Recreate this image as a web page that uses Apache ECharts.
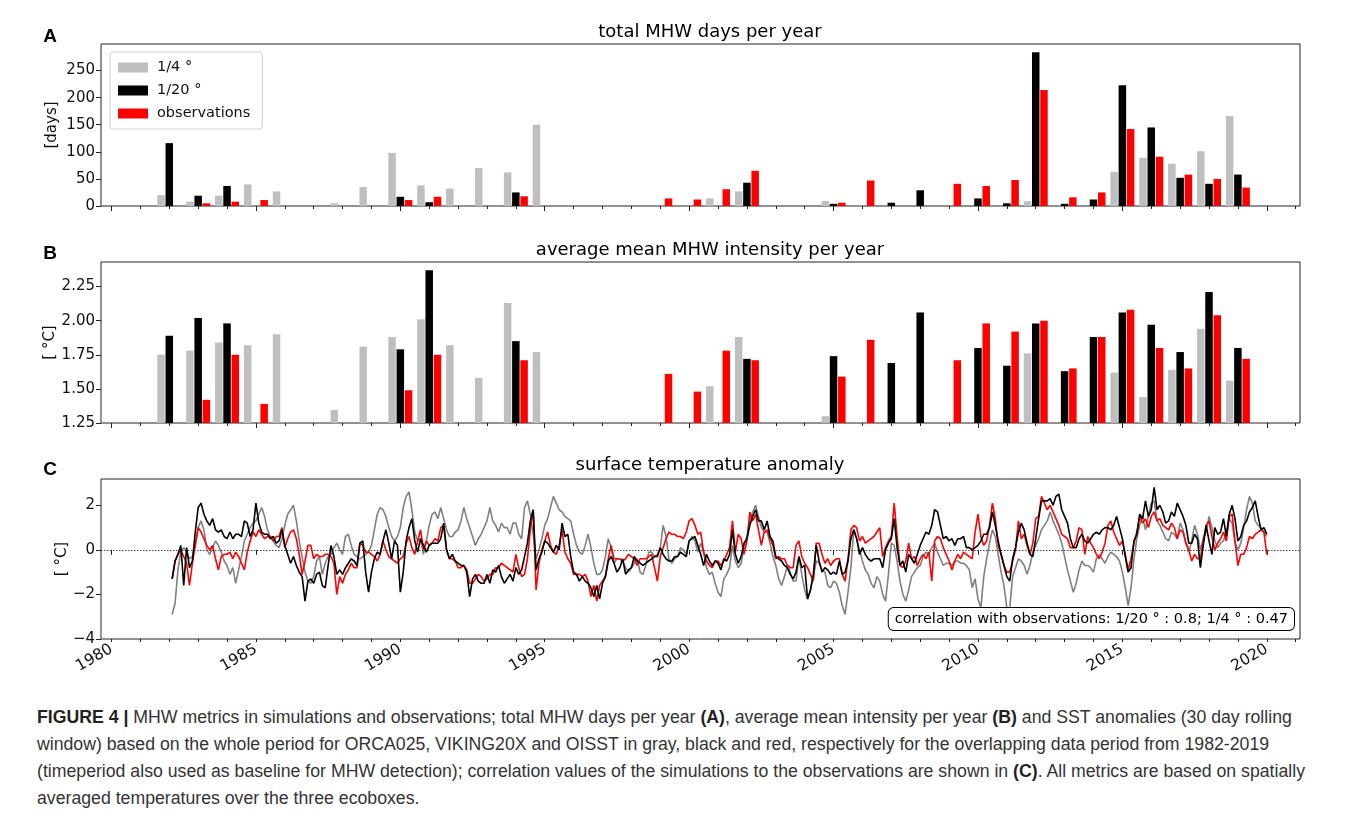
<!DOCTYPE html>
<html>
<head>
<meta charset="utf-8">
<script src="https://cdn.jsdelivr.net/npm/echarts@6/dist/echarts.min.js"></script>
<style>
  html, body { margin: 0; padding: 0; background: #fff; }
  #chart { position: absolute; left: 0; top: 0; width: 1358px; height: 690px; }
  #caption { position: absolute; left: 37px; top: 704px; font-family: 'Liberation Sans Narrow', 'Liberation Sans', 'DejaVu Sans', sans-serif; font-size: 17.5px; line-height: 27px; color: #333; white-space: nowrap; transform-origin: 0 0; }
  #caption b { color: #222; }
</style>
</head>
<body>
<div id="chart"></div>
<div id="caption">
  <div id="capLine1"><b>FIGURE 4 |</b> MHW metrics in simulations and observations; total MHW days per year <b>(A)</b>, average mean intensity per year <b>(B)</b> and SST anomalies (30 day rolling</div>
  <div>window) based on the whole period for ORCA025, VIKING20X and OISST in gray, black and red, respectively for the overlapping data period from 1982-2019</div>
  <div>(timeperiod also used as baseline for MHW detection); correlation values of the simulations to the observations are shown in <b>(C)</b>. All metrics are based on spatially</div>
  <div>averaged temperatures over the three ecoboxes.</div>
</div>
<script>
// ---------------- DATA ----------------
const barYears = [1982,1983,1984,1985,1986,1987,1988,1989,1990,1991,1992,1993,1994,1995,1996,1997,1998,1999,2000,
                  2001,2002,2003,2004,2005,2006,2007,2008,2009,2010,2011,2012,2013,2014,2015,2016,2017,2018,2019];

// (A) total MHW days per year
const daysQuarter   = [20,8,19,40,27,null,5,35,98,38,32,70,62,150,null,null,null,null,null,
                       14,27,null,null,9,null,null,null,null,null,null,9,null,null,63,89,78,101,166];
const daysTwentieth = [116,19,37,null,null,null,null,null,17,7,null,null,25,null,null,null,null,null,null,
                       null,43,null,null,4,null,6,29,null,14,5,284,4,12,223,145,52,41,58];
const daysObs       = [null,5,8,11,null,null,null,null,11,17,null,null,18,null,null,null,null,14,12,
                       31,65,null,null,6,47,null,null,41,37,48,214,16,25,142,91,58,50,34];

// (B) average mean MHW intensity per year
const intQuarter   = [1.75,1.78,1.84,1.82,1.90,null,1.345,1.81,1.88,2.01,1.82,1.58,2.13,1.77,null,null,null,null,null,
                      1.52,1.88,null,null,1.30,null,null,null,null,null,null,1.76,null,null,1.62,1.44,1.64,1.94,1.56];
const intTwentieth = [1.89,2.02,1.98,null,null,null,null,null,1.79,2.37,null,null,1.85,null,null,null,null,null,null,
                      null,1.72,null,null,1.74,null,1.69,2.06,null,1.80,1.67,1.98,1.63,1.88,2.06,1.97,1.77,2.21,1.80];
const intObs       = [null,1.42,1.75,1.39,null,null,null,null,1.49,1.75,null,null,1.71,null,null,null,null,1.61,1.48,
                      1.78,1.71,null,null,1.59,1.86,null,null,1.71,1.98,1.92,2.00,1.65,1.88,2.08,1.80,1.65,2.04,1.72];

// (C) SST anomaly, one row per year (values at year + 0.0, 0.1, ... 0.9)
const sstFirstYear = 1982;
const sstSamplesPerYear = 10;
const sstQuarter = [
  [null,-2.9,-2.4,-0.9,-0.1,0.1,-0.1,-0.4,-0.3,0.2],
  [1.0,1.3,0.9,0.0,-0.2,0.1,0.4,0.2,-0.1,-0.5],
  [-0.7,-1.1,-0.8,-1.5,-0.9,-0.3,0.4,0.7,1.0,1.2],
  [1.3,1.6,1.9,1.5,0.9,0.6,0.4,0.2,0.1,0.5],
  [1.1,1.6,1.8,2.0,1.3,0.4,-0.3,-1.0,-1.4,-1.5],
  [-1.2,-0.5,-0.3,-1.1,-0.6,-0.3,-0.2,0.1,0.3,0.0],
  [-0.2,0.6,0.7,0.2,-0.2,-0.3,-0.4,-0.3,-0.2,-0.1],
  [0.2,0.9,1.6,1.9,1.8,1.5,1.0,0.6,0.4,0.6],
  [1.0,1.9,2.4,2.6,1.8,0.8,0.4,0.5,-0.2,0.4],
  [1.1,1.6,1.7,1.4,1.9,1.4,0.9,0.6,0.6,0.8],
  [0.9,1.3,1.9,1.4,1.0,0.6,0.2,0.5,0.7,1.0],
  [1.3,1.9,1.3,1.1,0.8,1.2,1.0,1.0,0.7,1.2],
  [1.2,0.7,0.5,1.9,2.2,1.6,0.7,-0.4,0.0,0.5],
  [1.1,1.4,1.9,2.4,2.1,1.8,1.7,1.5,1.4,1.3],
  [0.7,0.2,-0.1,-0.2,0.2,0.7,0.1,-0.6,-1.1,-1.1],
  [-0.9,-0.3,0.5,0.1,-0.6,-0.4,-0.4,-0.5,-0.8,-1.0],
  [-0.8,-0.6,-0.4,-1.0,-1.1,-0.7,-0.1,-0.1,-0.3,-0.2],
  [0.1,1.1,0.6,-0.4,-0.6,-0.4,-0.3,0.1,0.0,-0.2],
  [0.4,0.6,0.4,-0.1,0.3,-0.1,-0.8,-1.1,-1.0,-1.5],
  [-1.9,-2.1,-1.3,-1.1,-0.8,0.2,-0.5,-0.8,-0.6,0.1],
  [0.6,1.3,1.7,2.0,1.5,1.0,0.8,0.8,0.3,-0.3],
  [-0.7,-1.3,-1.6,-1.2,-0.7,-1.0,-1.4,-1.4,-0.3,-1.1],
  [-1.8,-2.2,-1.8,-1.2,-0.5,-0.6,-0.9,-1.0,-1.6,-1.7],
  [-1.4,-1.5,-1.9,-2.5,-2.9,-1.9,-0.8,0.9,0.5,0.0],
  [-0.5,-0.9,-1.1,-1.5,-1.7,-1.2,-1.4,-2.0,-2.3,-1.1],
  [0.3,0.2,-0.5,-1.4,-2.0,-2.3,-1.8,-1.2,-1.0,-0.8],
  [-0.7,-0.3,-0.1,-0.2,0.1,0.3,-0.1,-0.4,-0.7,-0.6],
  [-0.6,-0.7,-0.5,-0.5,-0.6,-0.6,-0.7,-0.9,-1.7,-1.3],
  [-2.2,-2.6,-1.2,-0.4,0.3,0.9,0.6,-0.2,-1.0,-1.6],
  [-2.6,-2.6,-1.2,-0.8,-0.4,-0.5,-0.7,-1.1,-0.7,-0.1],
  [0.2,0.5,0.9,1.1,1.3,1.7,1.3,1.0,0.7,0.3],
  [-0.3,-0.9,-1.4,-1.9,-1.5,-0.9,-0.5,-0.7,-0.7,-0.8],
  [-1.0,-0.4,-0.2,-0.4,-0.6,-0.3,-0.1,-0.2,-0.3,-0.5],
  [-1.0,-1.7,-2.5,-1.7,-0.4,0.5,1.1,1.5,0.9,1.5],
  [2.1,2.2,1.3,1.1,0.8,0.5,0.4,0.8,0.7,0.5],
  [1.2,0.9,0.3,-0.1,0.4,1.1,0.7,0.0,0.5,0.8],
  [1.5,1.0,0.4,0.1,0.3,0.4,0.8,1.4,1.2,0.3],
  [0.0,0.3,1.0,1.8,2.4,2.1,1.3,1.1,1.0,0.8],
  [0.6]
];
const sstTwentieth = [
  [null,-1.3,-0.5,-0.2,0.2,-1.6,0.1,-0.8,-0.5,0.8],
  [1.9,2.1,1.6,1.3,1.1,1.4,0.9,0.8,0.9,0.6],
  [0.5,0.8,0.5,0.7,0.7,0.6,1.3,1.2,0.6,0.9],
  [2.1,1.2,0.8,0.7,0.7,0.5,0.6,0.3,0.4,0.9],
  [0.2,-0.2,-0.6,-0.3,-0.7,-1.0,-1.2,-2.3,-1.4,-1.3],
  [-1.5,-1.1,-1.0,-1.6,-1.7,-0.7,0.2,-0.3,-1.1,-0.9],
  [-1.1,-0.8,-0.6,-0.4,-0.5,-0.7,0.3,0.4,-1.0,-1.9],
  [-1.0,-0.4,-0.1,-0.2,0.4,0.9,0.3,-0.4,0.4,0.2],
  [-1.9,-1.0,0.4,1.0,1.4,0.4,-0.1,0.5,0.2,-0.1],
  [0.2,0.3,0.3,0.3,0.5,1.2,0.0,-0.4,-0.2,-0.5],
  [-0.6,-0.7,-0.7,-1.0,-2.1,-1.3,-1.1,-1.4,-1.5,-1.5],
  [-1.1,-1.5,-0.9,-1.0,-0.7,-1.2,-1.5,-1.3,-1.1,-1.4],
  [-0.8,-1.1,-0.9,-0.3,0.3,1.3,1.8,-0.9,-0.4,-0.1],
  [0.4,0.3,0.1,-0.1,0.2,0.0,1.2,0.6,0.7,-0.3],
  [-1.0,-1.1,-1.4,-1.2,-1.4,-1.5,-1.7,-2.1,-1.6,-2.2],
  [-1.5,-1.2,-0.5,-0.3,-0.6,-1.0,-0.8,-0.4,-1.1,-0.9],
  [-0.8,-0.3,-0.5,-0.6,-0.7,-0.6,-0.5,-0.4,-0.3,-0.3],
  [0.1,-0.2,-0.4,-0.5,-0.5,-0.3,-0.3,-0.1,-0.2,-0.3],
  [0.4,0.5,0.6,0.2,-0.2,-0.7,-0.2,-0.5,-0.7,-0.5],
  [-0.6,-0.9,-0.4,-0.5,-0.2,0.9,-0.2,-0.6,-0.3,0.3],
  [0.5,1.1,1.5,1.8,1.3,1.3,0.9,1.3,0.6,0.4],
  [-0.3,-0.4,-0.5,-0.7,-0.8,-1.1,-1.3,-1.0,-0.3,-0.8],
  [-0.7,-2.2,-1.8,-1.1,0.2,-0.5,-1.0,-0.8,-0.9,-1.1],
  [-1.0,-1.1,-0.5,-1.1,-1.0,-0.5,0.5,0.9,0.5,-0.2],
  [0.1,-0.2,-0.4,-0.5,-0.4,-0.4,-0.4,-0.8,0.0,0.3],
  [0.5,1.4,0.1,-0.7,-0.5,-1.0,-0.2,-0.4,-0.6,-0.2],
  [0.2,0.5,0.8,0.7,1.1,1.8,1.7,1.1,0.5,0.6],
  [0.4,0.5,0.2,0.5,0.5,0.6,0.1,0.1,0.0,0.1],
  [0.2,0.4,0.7,0.7,1.0,1.7,1.1,0.4,-0.2,-0.7],
  [-1.2,-1.4,-0.4,0.1,0.8,1.2,0.9,0.3,-0.2,-0.3],
  [0.5,1.4,2.2,2.2,2.2,2.3,2.0,2.4,2.5,1.8],
  [1.5,1.2,0.5,0.1,0.1,0.5,0.7,0.4,0.3,0.5],
  [0.7,0.8,0.7,0.9,1.0,1.0,0.9,1.1,1.5,1.0],
  [0.5,-0.3,-1.0,-0.8,0.4,0.7,1.6,1.4,2.2,1.5],
  [1.8,2.8,1.8,2.0,1.7,1.2,1.3,1.7,1.5,2.1],
  [1.8,1.5,1.1,0.3,0.3,0.7,0.5,-0.8,0.2,1.1],
  [0.4,-0.2,1.0,0.7,0.8,1.4,0.6,1.6,2.0,1.4],
  [0.4,0.6,1.1,1.3,1.7,1.9,2.2,1.5,0.9,1.0],
  [0.7]
];
const sstObs = [
  [null,-1.3,-0.5,-0.2,0.0,-0.3,-0.6,-1.6,-0.6,0.2],
  [1.0,0.8,0.5,0.2,0.0,0.2,-0.4,-0.9,-0.3,-0.2],
  [-0.2,-0.1,-0.4,-0.1,-0.3,-0.6,-0.9,-0.1,0.4,0.8],
  [0.6,0.9,0.7,0.5,0.6,0.6,0.4,0.6,0.6,1.0],
  [0.1,0.5,0.8,0.9,0.5,-0.2,-1.1,-0.5,0.2,0.2],
  [-0.4,-0.2,-0.3,-0.3,-0.2,-0.2,-0.3,-0.6,-2.0,-1.2],
  [-1.5,-1.1,-0.9,-0.6,-0.8,-0.8,0.3,0.2,-0.1,-0.1],
  [-0.2,-0.3,-0.5,-0.2,0.4,0.0,-0.3,-0.4,-0.5,-0.6],
  [-0.4,-0.3,0.3,0.6,0.1,-0.2,0.4,0.9,0.0,0.4],
  [0.2,0.3,0.5,0.4,1.0,1.1,0.0,-0.4,-0.4,-0.5],
  [-0.8,-0.8,-0.7,-0.9,-1.5,-1.5,-1.3,-1.1,-1.2,-1.4],
  [-1.3,-1.1,-1.1,-0.8,-0.8,-0.6,-0.7,-0.8,-0.9,-1.0],
  [-0.2,-0.8,-1.2,-1.1,-0.4,0.9,1.8,-1.8,-0.6,0.0],
  [0.4,0.8,0.2,-0.1,-0.2,0.2,0.9,-0.1,-0.4,-0.6],
  [-1.1,-1.1,-1.1,-1.2,-1.1,-1.4,-2.1,-1.6,-2.3,-1.6],
  [-1.4,-1.2,-0.4,0.2,-0.4,-0.4,-0.4,-0.5,-0.4,-0.2],
  [-0.3,-0.4,-0.7,-0.4,-0.4,-0.4,-0.3,-0.2,-0.8,-1.4],
  [-0.3,0.1,0.5,0.8,0.7,0.7,0.6,0.6,0.5,0.8],
  [1.3,1.4,1.1,0.7,0.8,-0.1,-0.5,-0.7,-0.8,-0.5],
  [-0.5,-0.7,-0.5,-0.2,0.1,1.3,-0.1,0.7,0.5,-0.2],
  [0.4,1.7,1.3,1.6,0.9,0.2,0.8,0.9,0.5,0.2],
  [-0.4,-0.3,-0.4,-0.4,-0.7,-0.8,-0.8,0.2,0.4,-0.3],
  [-0.6,-0.8,-1.1,-1.4,0.3,0.3,-0.2,-0.6,-0.4,-0.7],
  [-0.5,-0.4,-0.4,-1.1,-1.4,-0.4,0.9,1.1,1.0,0.4],
  [0.6,0.3,0.4,0.5,0.6,0.8,1.0,-0.3,0.1,0.4],
  [0.6,2.1,0.6,-0.7,-0.8,-0.5,0.3,-0.4,-0.3,-0.7],
  [-0.4,-0.2,-0.4,-0.1,-1.4,0.4,0.6,0.5,0.1,-0.2],
  [-0.5,-0.9,-0.5,-0.2,-0.4,-0.1,-0.2,-0.3,-0.4,0.8],
  [1.6,0.6,0.2,0.4,1.1,2.1,1.4,0.2,-0.2,-0.7],
  [-1.0,-1.0,-0.5,0.0,1.3,0.5,0.7,0.2,-0.2,0.3],
  [1.4,1.5,2.4,2.1,1.8,2.0,1.7,1.4,1.1,0.7],
  [0.6,0.5,0.1,0.1,0.4,1.0,0.9,-0.2,0.6,0.3],
  [0.1,-0.2,-0.4,-0.1,0.3,1.1,1.3,0.8,0.5,0.2],
  [0.4,-0.2,-0.9,-0.4,0.3,0.8,1.5,1.2,1.4,1.0],
  [1.5,1.7,1.3,1.4,1.1,1.0,0.9,1.2,1.0,0.5],
  [0.9,0.8,0.3,0.0,-0.5,-0.2,-0.4,-0.4,0.4,1.1],
  [1.3,0.6,0.0,0.3,0.5,0.8,0.4,1.5,1.6,0.4],
  [-0.7,-0.2,-0.2,0.1,0.6,0.5,0.7,0.8,0.9,0.8],
  [-0.2]
];

// tick labels
const majorTickYears = [1980,1985,1990,1995,2000,2005,2010,2015,2020];
const daysTicks = [0,50,100,150,200,250];
const intensityTicks = [1.25,1.50,1.75,2.00,2.25];
const sstTicks = [-4,-2,0,2];
const seriesNames = ['1/4 °', '1/20 °', 'observations'];
const correlationText = 'correlation with observations: 1/20 ° : 0.8; 1/4 ° : 0.47';

// ---------------- CHART ----------------
const minorTickYears = [];
for (let y = 1980; y <= 2021; y++) minorTickYears.push(y);

const GRID_LEFT = 101, GRID_WIDTH = 1199;
const X_MIN = 1979.636, X_MAX = 2021.15;
const FONT = "'DejaVu Sans', sans-serif";
const gridBoxes = [{ top: 44, height: 162 }, { top: 262, height: 161 }, { top: 479, height: 160 }];
const COLORS = ['#bfbfbf', '#000000', '#ff0000'];
const LINE_COLORS = ['#808080', '#000000', '#ff0000'];
const AXIS_COLOR = '#222';
const TITLE_X = 710;

function pairs(xs, ys) { return xs.map((x, i) => [x, ys[i]]); }
function sstData(rows) {
  const out = [];
  rows.forEach((row, r) => row.forEach((v, j) => {
    if (v !== null) out.push([sstFirstYear + r + j / sstSamplesPerYear, v]);
  }));
  return out;
}
function fmtMinus(v) { return v < 0 ? '\u2212' + Math.abs(v) : String(v); }

const xAxes = [];
[0, 1, 2].forEach(i => xAxes.push({
  type: 'value', gridIndex: i, min: X_MIN, max: X_MAX, position: 'bottom',
  axisLine: { show: false }, splitLine: { show: false },
  axisTick: { show: true, length: 5, customValues: majorTickYears, lineStyle: { color: AXIS_COLOR, width: 1 } },
  axisLabel: { show: i === 2, customValues: majorTickYears, rotate: 30, margin: 9, fontSize: 15.5, color: '#111',
               fontFamily: FONT, formatter: v => String(v) }
}));
[0, 1, 2].forEach(i => xAxes.push({
  type: 'value', gridIndex: i, min: X_MIN, max: X_MAX, position: 'bottom',
  axisLine: { show: false }, splitLine: { show: false },
  axisTick: { show: true, length: 3, customValues: minorTickYears, lineStyle: { color: AXIS_COLOR, width: 1 } },
  axisLabel: { show: false, customValues: minorTickYears }
}));

function yAxis(i, min, max, ticks, fmt, name, gap) {
  return {
    type: 'value', gridIndex: i, min: min, max: max,
    axisLine: { show: false }, splitLine: { show: false },
    axisTick: { show: true, length: 5, customValues: ticks, lineStyle: { color: AXIS_COLOR, width: 1 } },
    axisLabel: { customValues: ticks, formatter: fmt, fontSize: 15, color: '#111', margin: 6, fontFamily: FONT },
    name: name, nameLocation: 'middle', nameGap: gap, nameRotate: 90, nameMoveOverlap: false,
    nameTextStyle: { fontSize: 15, color: '#111', fontFamily: FONT }
  };
}

const series = [];
[[daysQuarter, daysTwentieth, daysObs], [intQuarter, intTwentieth, intObs]].forEach((group, gi) => {
  group.forEach((vals, si) => {
    series.push({
      type: 'bar', name: seriesNames[si], xAxisIndex: gi, yAxisIndex: gi,
      data: pairs(barYears, vals), barWidth: 7.5, barGap: '10%',
      itemStyle: { color: COLORS[si] }, clip: true, silent: true
    });
  });
});
[sstQuarter, sstObs, sstTwentieth].forEach((rows, k) => {
  const colorIdx = [0, 2, 1][k];
  series.push({
    type: 'line', name: 'sst ' + seriesNames[colorIdx], xAxisIndex: 2, yAxisIndex: 2,
    data: sstData(rows), showSymbol: false, symbol: 'none', silent: true,
    lineStyle: { color: LINE_COLORS[colorIdx], width: 1.6 },
    markLine: k === 0 ? {
      silent: true, symbol: 'none', label: { show: false },
      lineStyle: { type: [1.5, 1.5], color: '#444', width: 1 },
      data: [{ yAxis: 0 }]
    } : undefined,
    z: 3 + k
  });
});

const txt = (text, x, y, font, align) => ({
  type: 'text', x: x, y: y, silent: true,
  style: { text: text, font: font, fill: '#000', align: align || 'center', verticalAlign: 'middle' }
});

const option = {
  animation: false,
  backgroundColor: '#fff',
  textStyle: { fontFamily: FONT },
  grid: gridBoxes.map(g => ({
    left: GRID_LEFT, width: GRID_WIDTH, top: g.top, height: g.height,
    show: true, borderColor: AXIS_COLOR, borderWidth: 1, backgroundColor: 'transparent',
    containLabel: false, outerBoundsMode: 'none'
  })),
  xAxis: xAxes,
  yAxis: [
    yAxis(0, 0, 299, daysTicks, v => String(v), '[days]', 41),
    yAxis(1, 1.25, 2.43, intensityTicks, v => v.toFixed(2), '[ °C]', 43),
    yAxis(2, -4, 3.18, sstTicks, fmtMinus, '[ °C]', 31)
  ],
  legend: {
    data: seriesNames, left: 110, top: 52, orient: 'vertical',
    icon: 'rect', itemWidth: 30, itemHeight: 10, itemGap: 8,
    padding: [8, 12, 8, 8], borderColor: '#d0d0d0', borderWidth: 1, borderRadius: 3,
    backgroundColor: 'rgba(255,255,255,0.85)',
    textStyle: { fontSize: 14.5, color: '#111', fontFamily: FONT, padding: [0, 0, 0, 4] }
  },
  graphic: [
    txt('A', 50, 37, "bold 19px 'Liberation Sans', Arial, sans-serif"),
    txt('total MHW days per year', TITLE_X, 32, "18px 'DejaVu Sans', sans-serif"),
    txt('B', 50, 254, "bold 19px 'Liberation Sans', Arial, sans-serif"),
    txt('average mean MHW intensity per year', TITLE_X, 250, "18px 'DejaVu Sans', sans-serif"),
    txt('C', 50, 470, "bold 19px 'Liberation Sans', Arial, sans-serif"),
    txt('surface temperature anomaly', TITLE_X, 465, "18px 'DejaVu Sans', sans-serif"),
    {
      type: 'text', x: 1294, y: 619, silent: true, z: 100,
      style: {
        text: correlationText, font: "14.5px 'DejaVu Sans', sans-serif", fill: '#000',
        align: 'right', verticalAlign: 'middle',
        backgroundColor: '#fff', borderColor: '#000', borderWidth: 1, borderRadius: 5, padding: [4, 6, 3, 6]
      }
    }
  ],
  series: series
};

const chart = echarts.init(document.getElementById('chart'), null, { renderer: 'canvas' });
chart.setOption(option);

// condense the caption horizontally so its first line spans the reference's line length
(function fitCaption() {
  const cap = document.getElementById('caption');
  const l1 = document.getElementById('capLine1');
  const w = l1.getBoundingClientRect().width;
  const target = 1268;
  if (w > 0) cap.style.transform = 'scaleX(' + (target / w) + ')';
})();
</script>
</body>
</html>
